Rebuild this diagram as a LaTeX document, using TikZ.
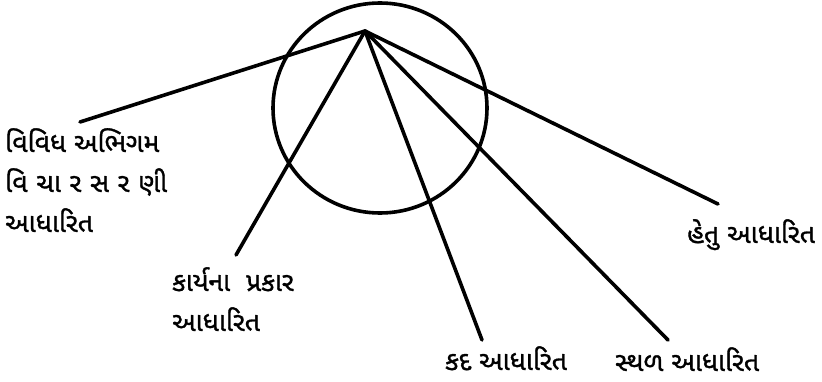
\documentclass[tikz,border=0pt]{standalone}
\usepackage{fontspec}
\newfontfamily\gujfont[Script=Gujarati, FakeBold=1.2]{Noto Sans Gujarati UI}
\usetikzlibrary{positioning}

\begin{document}
\begin{tikzpicture}[
  x=1pt, y=-1pt,
  spoke/.style = {line width=3.6pt, line cap=round},
  lbl/.style = {font=\gujfont\fontsize{26.6}{40}\selectfont, inner sep=0pt,
    align=left, anchor=north west},
]
\useasboundingbox (0,0) rectangle (822,382);

% hub and ring
\coordinate (hub) at (365,31);
\draw[spoke] (380,108) ellipse [x radius=107, y radius=105];

% labels
\node[lbl] (vichar) at (5,128)   {વિવિધ અભિગમ\\
  \makebox[162pt][s]{વિ\hfil ચા\hfil ર\hfil સ\hfil ર\hfil ણી}\\આધારિત};
\node[lbl] (karya)  at (172,267) {કાર્યના\hspace{8pt} પ્રકાર\\આધારિત};
\node[lbl] (kad)    at (445,346) {કદ આધારિત};
\node[lbl] (sthal)  at (615,347) {સ્થળ આધારિત};
\node[lbl] (hetu)   at (687,219) {હેતુ આધારિત};

% free ends of the spokes
\coordinate (e1) at (80,122);
\coordinate (e2) at (236,255);
\coordinate (e3) at (482,340);
\coordinate (e4) at (668,340);
\coordinate (e5) at (718,204);

% spokes
\foreach \e in {e1,e2,e3,e4,e5}
  \draw[spoke] (hub) -- (\e);
\end{tikzpicture}
\end{document}
